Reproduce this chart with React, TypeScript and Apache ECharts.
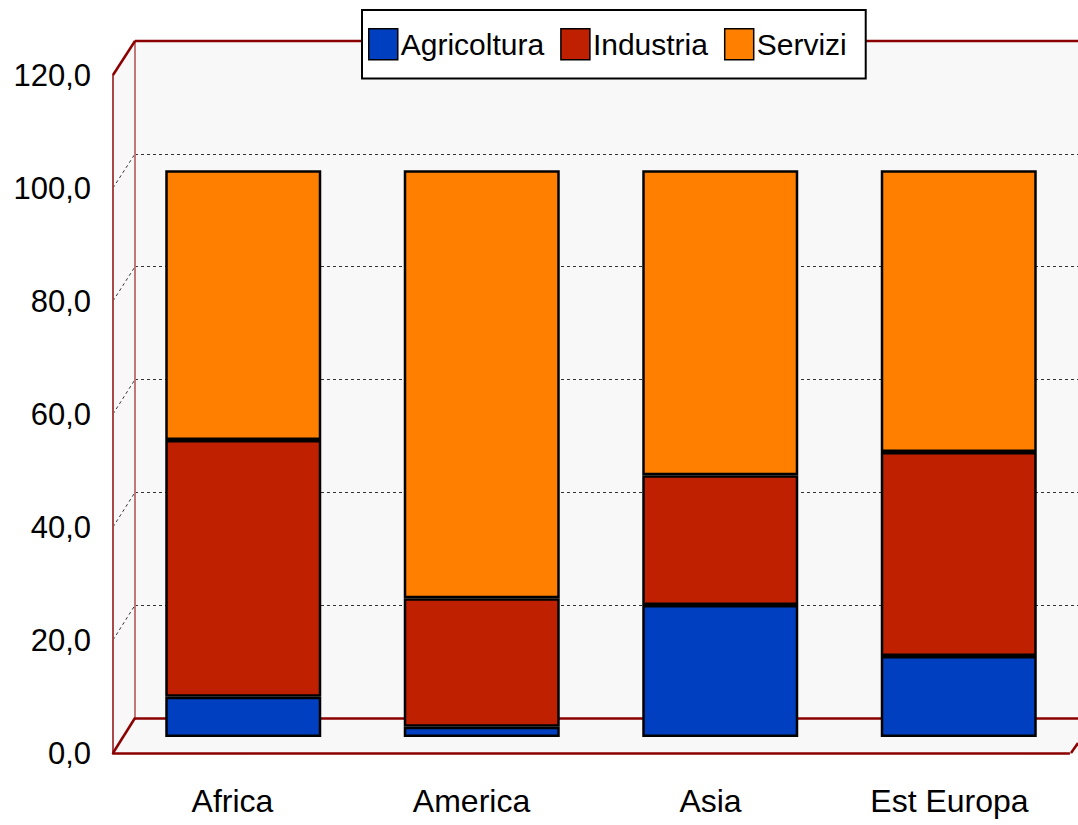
import React, { useEffect, useRef } from "react";
import * as echarts from "echarts";

const categories = ["Africa", "America", "Asia", "Est Europa"];
const seriesNames = ["Agricoltura", "Industria", "Servizi"];
const agricoltura = [7.1, 1.8, 23.3, 14.3];
const industria = [45.3, 22.7, 22.9, 36.0];
const servizi = [47.6, 75.5, 53.8, 49.7];
const colors = ["#0040C0", "#BE2000", "#FF8000"];
const yTicks = [0, 20, 40, 60, 80, 100, 120];

const FONT = '"Liberation Sans", Arial, sans-serif';

// frame geometry (pseudo-3D walls)
const FX = 113, FT = 75, FB = 753; // front plane
const BX = 135, BT = 41, BB = 718; // back plane
const RIGHT = 1078;

export default function App() {
  const ref = useRef<HTMLDivElement>(null);
  useEffect(() => {
    if (!ref.current) return;
    const chart = echarts.init(ref.current, null, { renderer: "svg" });
    const fmt = (v: number) => v.toFixed(1).replace(".", ",");
    const values = [agricoltura, industria, servizi];

    const diag: any[] = yTicks.slice(1, -1).map((t) => ({
      type: "line",
      z: 0,
      shape: {
        x1: FX, y1: FB - ((FB - FT) * t) / 120,
        x2: BX, y2: BB - ((BB - BT) * t) / 120,
      },
      style: { stroke: "#333", lineWidth: 1, lineDash: [3, 3] },
    }));

    chart.setOption({
      animation: false,
      backgroundColor: "#ffffff",
      textStyle: { fontFamily: FONT },
      graphic: [
        {
          type: "polygon",
          z: -10,
          shape: { points: [[FX, FT], [BX, BT], [RIGHT, BT], [RIGHT, FB], [FX, FB]] },
          style: { fill: "#f8f8f8" },
        },
        ...diag,
        { type: "line", z: 1, shape: { x1: BX, y1: BT, x2: RIGHT, y2: BT }, style: { stroke: "#8B0000", lineWidth: 2.5 } },
        { type: "line", z: 1, shape: { x1: FX, y1: FT, x2: BX, y2: BT }, style: { stroke: "#8B0000", lineWidth: 2.5 } },
        { type: "line", z: 1, shape: { x1: FX, y1: FB, x2: BX, y2: BB }, style: { stroke: "#8B0000", lineWidth: 2.5 } },
        { type: "line", z: 1, shape: { x1: 1071, y1: FB, x2: RIGHT, y2: 743 }, style: { stroke: "#8B0000", lineWidth: 2.5 } },
      ],
      legend: {
        data: seriesNames,
        left: 362,
        top: 10,
        padding: [18, 19, 18, 6],
        itemGap: 16,
        itemWidth: 29,
        itemHeight: 31,
        icon: "rect",
        backgroundColor: "#ffffff",
        borderColor: "#000000",
        borderWidth: 2,
        borderRadius: 0,
        z: 10,
        textStyle: { fontFamily: FONT, fontSize: 30, color: "#000", padding: [4, 0, 0, -2] },
        itemStyle: { borderColor: "#000", borderWidth: 1.5 },
      },
      grid: [
        { left: BX, top: BT, width: 956, height: BB - BT },
        { left: 124, top: 57, width: 956, height: 680 },
        { left: FX, top: FT, width: 956, height: FB - FT },
      ],
      xAxis: [
        {
          gridIndex: 0, type: "category", data: categories,
          axisLine: { show: true, lineStyle: { color: "#8B0000", width: 2.5 } },
          axisTick: { show: false }, axisLabel: { show: false },
        },
        {
          gridIndex: 1, type: "category", data: categories, show: false,
        },
        {
          gridIndex: 2, type: "category", data: categories,
          axisLine: { show: true, lineStyle: { color: "#8B0000", width: 2.5 } },
          axisTick: { show: false },
          axisLabel: { interval: 0, fontFamily: FONT, fontSize: 32, color: "#000", margin: 32 },
        },
      ],
      yAxis: [
        {
          gridIndex: 0, type: "value", min: 0, max: 120, interval: 20,
          axisLine: { show: true, lineStyle: { color: "#C07878", width: 2 } },
          axisTick: { show: false }, axisLabel: { show: false },
          splitLine: { show: true, lineStyle: { color: "#333", width: 1, type: [3, 3] } },
        },
        {
          gridIndex: 1, type: "value", min: 0, max: 120, interval: 20, show: false,
          splitLine: { show: false },
        },
        {
          gridIndex: 2, type: "value", min: 0, max: 120, interval: 20,
          axisLine: { show: true, lineStyle: { color: "#A84848", width: 2 } },
          axisTick: { show: false },
          splitLine: { show: false },
          axisLabel: { fontFamily: FONT, fontSize: 31, color: "#000", margin: 22, formatter: fmt },
        },
      ],
      series: seriesNames.map((name, i) => ({
        name,
        type: "bar",
        stack: "total",
        xAxisIndex: 1,
        yAxisIndex: 1,
        barWidth: 156,
        data: values[i],
        itemStyle: { color: colors[i], borderColor: "#000", borderWidth: 2.5 },
        z: 3,
      })),
    });
    return () => chart.dispose();
  }, []);

  return (
    <div
      ref={ref}
      style={{ position: "fixed", left: 0, top: 0, width: 1078, height: 825, background: "#fff" }}
    />
  );
}
